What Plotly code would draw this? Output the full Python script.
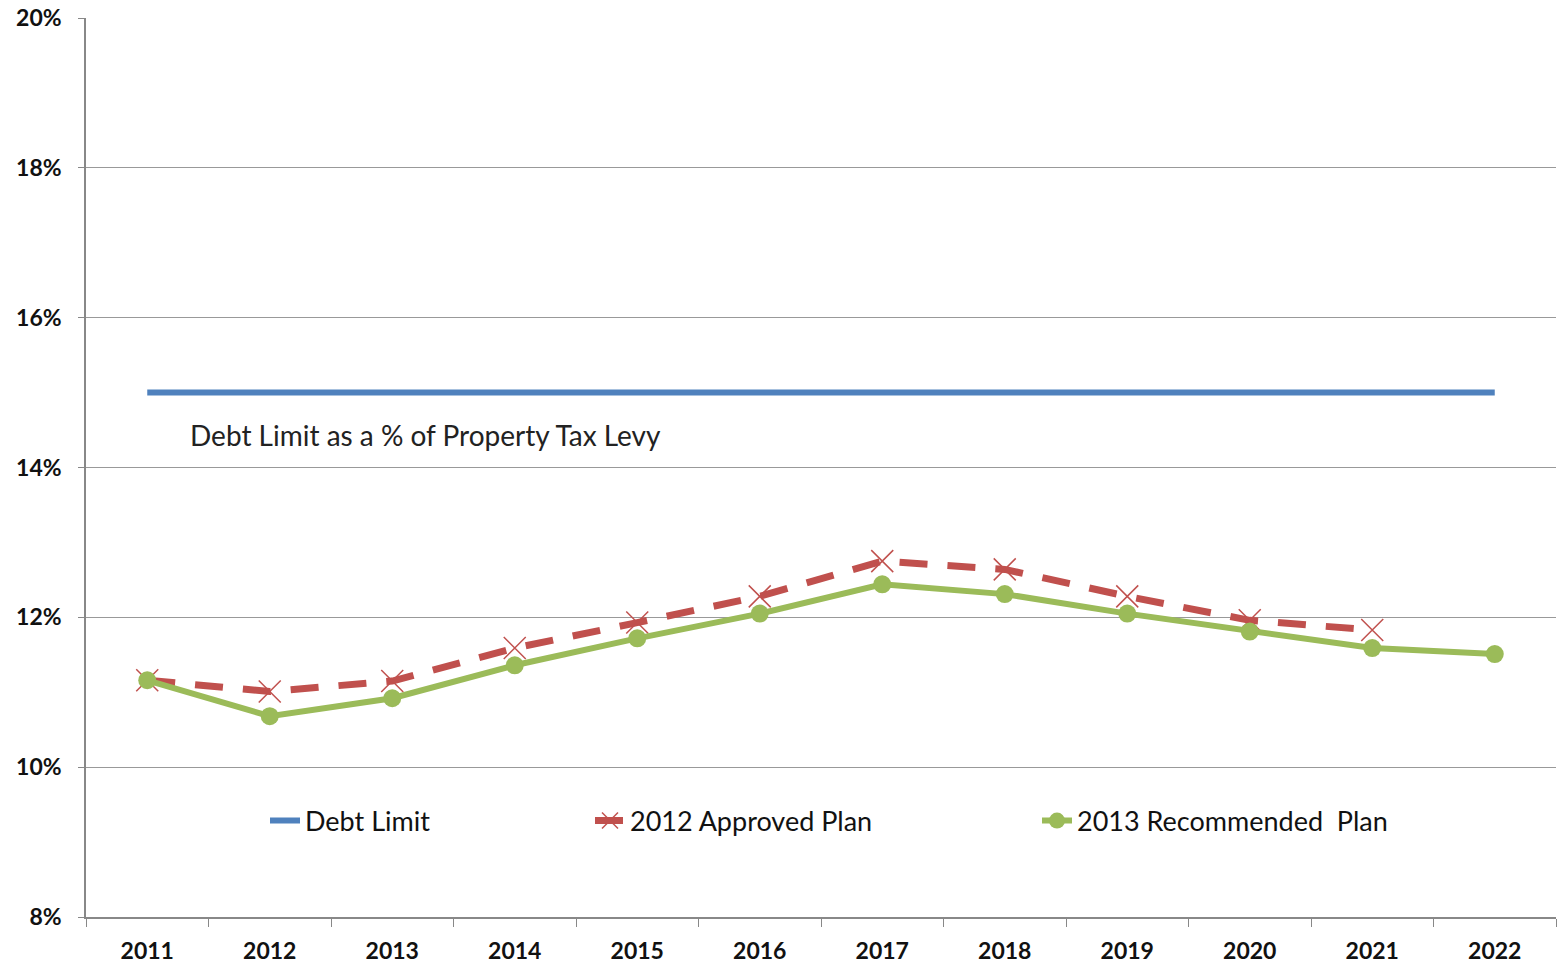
import plotly.graph_objects as go

years = ["2011", "2012", "2013", "2014", "2015", "2016", "2017", "2018", "2019", "2020", "2021", "2022"]
debt_limit = [15, 15, 15, 15, 15, 15, 15, 15, 15, 15, 15, 15]
approved_2012 = [11.16, 11.01, 11.15, 11.59, 11.93, 12.28, 12.75, 12.64, 12.28, 11.96, 11.83, None]
recommended_2013 = [11.16, 10.68, 10.92, 11.36, 11.72, 12.05, 12.44, 12.31, 12.05, 11.81, 11.59, 11.51]
y_ticks = [8, 10, 12, 14, 16, 18, 20]
y_ticktext = ["8%", "10%", "12%", "14%", "16%", "18%", "20%"]

FONT = "Lato, 'Open Sans', sans-serif"

fig = go.Figure()
fig.add_trace(go.Scatter(
    x=years, y=debt_limit, mode="lines", name="Debt Limit",
    line=dict(color="#4F81BD", width=6), legend="legend", showlegend=True))
fig.add_trace(go.Scatter(
    x=years, y=approved_2012, mode="lines+markers", name="2012 Approved Plan",
    line=dict(color="#C0504D", width=7, dash="28px,20px"),
    marker=dict(symbol="x-thin-open", size=22, line=dict(color="#E08A88", width=1.5)),
    legend="legend2", showlegend=True))
fig.add_trace(go.Scatter(
    x=years, y=recommended_2013, mode="lines+markers", name="2013 Recommended  Plan",
    line=dict(color="#9BBB59", width=6),
    marker=dict(symbol="circle", size=18, color="#9BBB59"),
    legend="legend3", showlegend=True))

fig.add_annotation(
    text="Debt Limit as a % of Property Tax Levy", xref="paper", yref="paper",
    x=(188 - 86) / 1470, y=(917 - 435) / 899, xanchor="left", yanchor="middle",
    showarrow=False, font=dict(family=FONT, size=28, color="#222"))

leg_common = dict(orientation="h", yanchor="middle", xanchor="left", bgcolor="rgba(0,0,0,0)",
                  font=dict(family=FONT, size=27, color="#111"), visible=True)
ly = (917 - 821) / 899
fig.update_layout(
    width=1566, height=965,
    showlegend=True,
    margin=dict(l=86, r=10, t=18, b=48),
    plot_bgcolor="white", paper_bgcolor="white",
    legend=dict(x=(265 - 86) / 1470, y=ly, **leg_common),
    legend2=dict(x=(590 - 86) / 1470, y=ly, **leg_common),
    legend3=dict(x=(1037 - 86) / 1470, y=ly, **leg_common),
    xaxis=dict(type="category", tickson="boundaries", ticks="outside", ticklen=8,
               tickcolor="#888", showline=True, linecolor="#888", linewidth=1.5,
               showgrid=False, range=[-0.5, 11.5], automargin=False, ticklabelstandoff=13,
               tickfont=dict(family=FONT, size=23, color="#111", weight="bold")),
    yaxis=dict(range=[8, 20], tickvals=y_ticks, ticktext=y_ticktext, ticks="outside",
               ticklen=6, tickcolor="#888", showline=True, linecolor="#888", linewidth=1.5,
               showgrid=True, gridcolor="#999", gridwidth=1, zeroline=False,
               automargin=False, ticklabelstandoff=12,
               tickfont=dict(family=FONT, size=23, color="#111", weight="bold")),
)

fig.write_html("out.html", config={"displayModeBar": False},
               post_script="document.body.style.margin='0';")
